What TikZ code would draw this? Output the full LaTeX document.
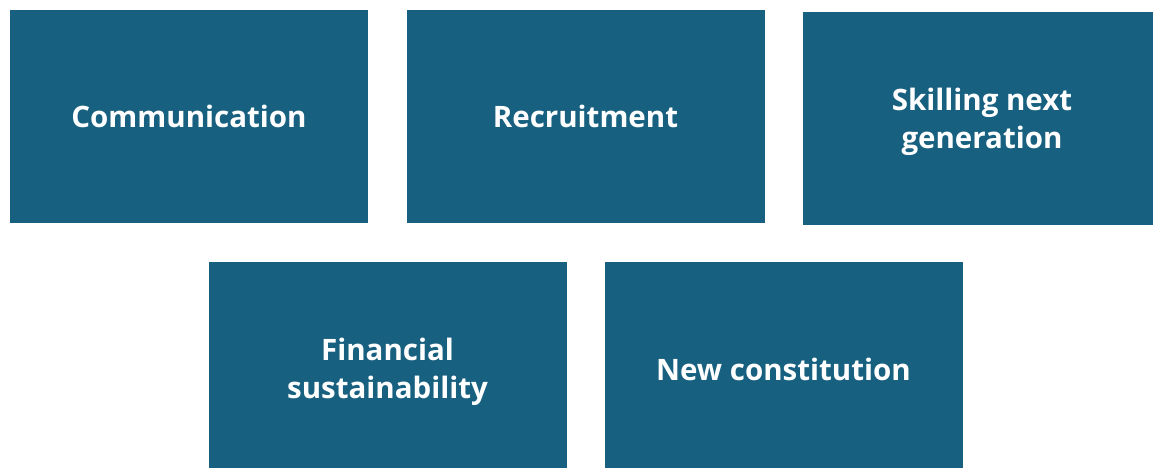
\documentclass[tikz,border=0pt]{standalone}
\usepackage{fontspec}
\setmainfont{Open Sans}
\definecolor{boxblue}{RGB}{23,96,128}
\begin{document}
\begin{tikzpicture}[x=1pt,y=-1pt,
  box/.style={fill=boxblue, draw=none, inner sep=0pt,
    minimum width=358pt, minimum height=213pt},
  lbl/.style={inner sep=0pt, text=white,
    font=\fontsize{29.5}{38}\selectfont\bfseries, align=center}]
\useasboundingbox (0,0) rectangle (1153,468);
\clip (0,0) rectangle (1153,468);
\node[box] (comm) at (189,116.5) {};
\node[box] (recr) at (585.5,116.5) {};
\node[box] (skil) at (982,118.5) {};
\node[box, minimum height=214pt] (fin) at (387.5,369) {};
\node[box, minimum height=214pt] (newc) at (783.5,369) {};
\node[lbl] (commt) at (comm.center) {Communication};
\node[lbl] (recrt) at (recr.center) {Recruitment};
\node[lbl] (skilt) at ([yshift=-3pt]skil.center) {Skilling next\\generation};
\node[lbl] (fint) at ([yshift=-3pt]fin.center) {Financial\\sustainability};
\node[lbl] (newct) at (newc.center) {New constitution};
\end{tikzpicture}
\end{document}
